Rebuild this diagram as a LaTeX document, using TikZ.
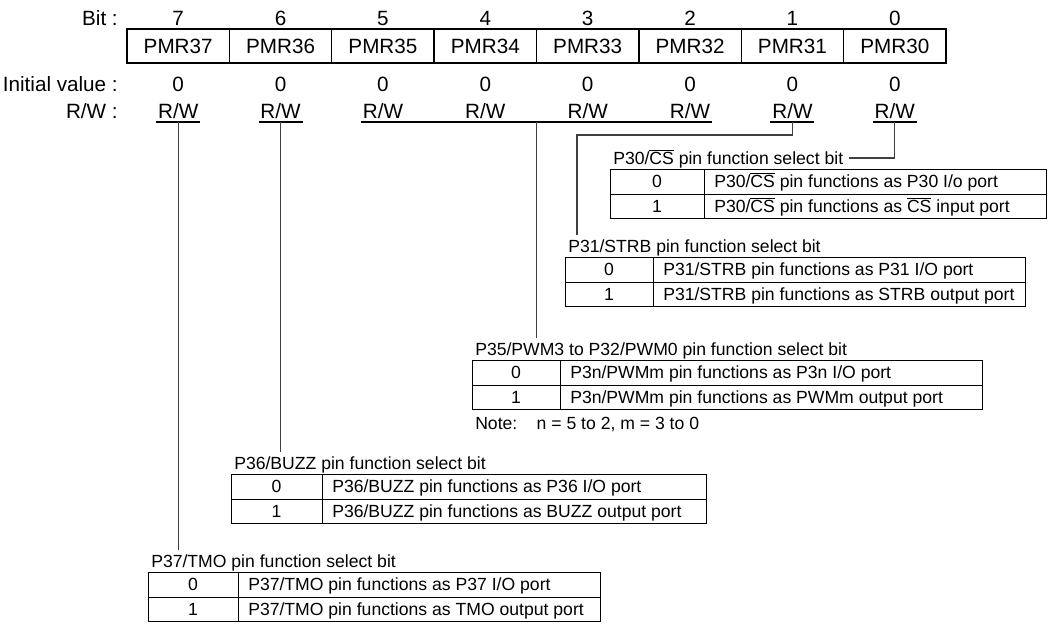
\documentclass[tikz,border=0pt]{standalone}
\usepackage{fontspec}
\setmainfont{Liberation Sans}
\newcommand\ovl[1]{$\overline{\mbox{#1}}$}
\newcommand\ptable[8]{%
  \node[ttext, anchor=base west, inner sep=0pt] (#1t) at (#2+3, #3-5) {#6};
  \node[tcell, minimum width=#4*0.75pt] (#1a0) at (#2, #3) {};
  \node[tcell, minimum width=(#5-#4)*0.75pt] (#1b0) at (#2+#4, #3) {};
  \node[tcell, minimum width=#4*0.75pt] (#1a1) at (#2, #3+24.5) {};
  \node[tcell, minimum width=(#5-#4)*0.75pt] (#1b1) at (#2+#4, #3+24.5) {};
  \node[ttext, anchor=base] (#1a0x) at (#2+#4/2, #3+18.5) {0};
  \node[ttext, anchor=base] (#1a1x) at (#2+#4/2, #3+43) {1};
  \node[ttext, anchor=base west] (#1b0x) at (#2+#4+10, #3+18.5) {#7};
  \node[ttext, anchor=base west] (#1b1x) at (#2+#4+10, #3+43) {#8};
}
\begin{document}
\begin{tikzpicture}[x=0.75pt,y=-0.75pt,
  reg/.style={draw, line width=1.1pt, minimum width=102.375*0.75pt, minimum height=34*0.75pt, inner sep=0pt, font=\fontsize{15.5}{18}\selectfont},
  lab/.style={inner sep=0pt, font=\fontsize{15.5}{18}\selectfont},
  tcell/.style={draw, line width=0.9pt, minimum height=24.5*0.75pt, inner sep=0pt, anchor=north west},
  ttext/.style={inner sep=0pt, font=\fontsize{13.2}{15}\selectfont},
  conn/.style={line width=0.8pt, draw=black!75},
  uline/.style={line width=0.85pt}]
\useasboundingbox (0,0) rectangle (1061,625);
% row labels
\node[lab, anchor=base east] (lbit) at (118,25) {Bit :};
\node[lab, anchor=base east] (linit) at (118,91) {Initial value :};
\node[lab, anchor=base east] (lrw) at (118,118) {R/W :};
% register
\foreach \n in {7,...,0} {
  \pgfmathsetmacro\cx{127+102.375*(7-\n+0.5)}
  \node[lab, anchor=base] (b\n) at (\cx,25) {\n};
  \node[reg] (PMR3\n) at (\cx,46) {PMR3\n};
  \node[lab, anchor=base] (iv\n) at (\cx,91) {0};
  \node[lab, anchor=base] (rw\n) at (\cx,118) {R/W};
  \coordinate (u\n) at (\cx,122);
  \coordinate (ul\n) at (\cx-22,122);
  \coordinate (ur\n) at (\cx+22,122);
}
\draw[uline] (ul7) -- (ur7);
\draw[uline] (ul6) -- (ur6);
\draw[uline] (ul5) -- (ur2);
\draw[uline] (ul1) -- (ur1);
\draw[uline] (ul0) -- (ur0);
\coordinate (ug) at (536.5,122);
% tables
\ptable{T1}{610}{169}{94}{436}{P30/\ovl{CS} pin function select bit}{P30/\ovl{CS} pin functions as P30 I/o port}{P30/\ovl{CS} pin functions as \ovl{CS} input port}
\ptable{T2}{565}{257}{88}{460}{P31/STRB pin function select bit}{P31/STRB pin functions as P31 I/O port}{P31/STRB pin functions as STRB output port}
\ptable{T3}{472}{360}{88}{510}{P35/PWM3 to P32/PWM0 pin function select bit}{P3n/PWMm pin functions as P3n I/O port}{P3n/PWMm pin functions as PWMm output port}
\ptable{T4}{231}{474}{91}{475}{P36/BUZZ pin function select bit}{P36/BUZZ pin functions as P36 I/O port}{P36/BUZZ pin functions as BUZZ output port}
\ptable{T5}{148}{572}{90}{452}{P37/TMO pin function select bit}{P37/TMO pin functions as P37 I/O port}{P37/TMO pin functions as TMO output port}
\node[ttext, anchor=base west] (note) at (475,429) {Note:\hspace{1.1em}n = 5 to 2, m = 3 to 0};
% connectors
\coordinate (k0) at ([xshift=4pt, yshift=4.5pt]T1t.base east);
\draw[conn] (u0) |- (k0);
\coordinate (k1) at (577,135);
\draw[conn] (u1) |- (k1) -- ([yshift=3pt]T2t.north -| k1);
\draw[conn] (ug) -- ([yshift=3pt]T3t.north -| ug);
\draw[conn] (u6) -- ([yshift=3pt]T4t.north -| u6);
\draw[conn] (u7) -- ([yshift=3pt]T5t.north -| u7);
\end{tikzpicture}
\end{document}
